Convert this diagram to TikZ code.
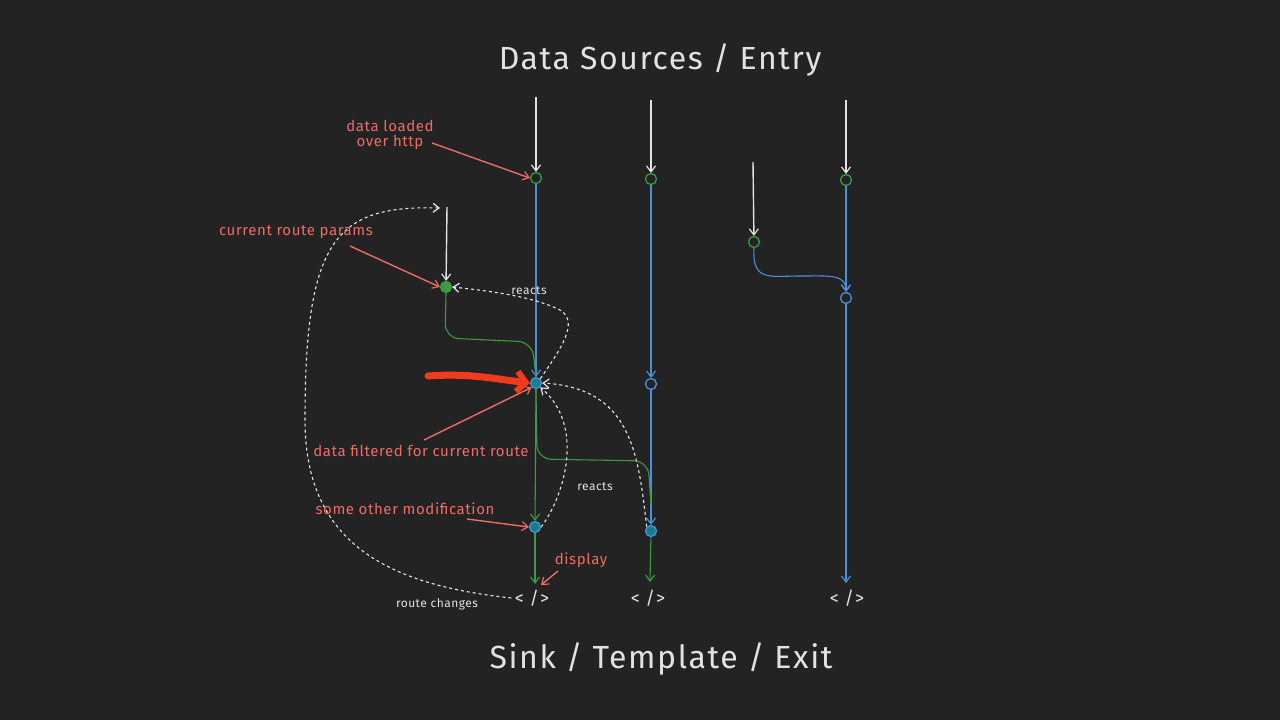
\documentclass[tikz,border=0pt]{standalone}
\usepackage{fontspec}
\setmainfont{Fira Sans}
\usetikzlibrary{arrows.meta}
\definecolor{bgc}{HTML}{232323}
\definecolor{wline}{HTML}{E2E2E2}
\definecolor{bline}{HTML}{4A8FD8}
\definecolor{gline}{HTML}{3C9A44}
\definecolor{tealf}{HTML}{157F8C}
\definecolor{redt}{HTML}{EE6B66}
\definecolor{bigred}{HTML}{F23A1C}
\tikzset{
  tip/.style={-{Straight Barb[length=6pt,width=9pt,line width=1.2pt]}},
  warr/.style={draw=wline,line width=1.4pt,tip},
  barr/.style={draw=bline,line width=1.1pt,tip},
  bl/.style={draw=bline,line width=1.1pt},
  garr/.style={draw=gline,line width=1.1pt,tip},
  gl/.style={draw=gline,line width=1.1pt},
  darr/.style={draw=wline!85,line width=1.1pt,dash pattern=on 3pt off 3pt,tip},
  rarr/.style={draw=redt,line width=1.4pt,tip},
  ocirc/.style={circle,minimum size=11pt,inner sep=0pt,line width=1.3pt},
  gcirc/.style={ocirc,draw=gline},
  bcirc/.style={ocirc,draw=bline},
  fcirc/.style={ocirc,draw=bline,fill=tealf},
  pcirc/.style={ocirc,draw=gline,fill=gline},
  ttl/.style={text=wline,font=\fontsize{32}{36}\selectfont\addfontfeature{LetterSpace=5}},
  rtxt/.style={text=redt,font=\fontsize{15}{17}\selectfont\addfontfeature{LetterSpace=4},align=center},
  wtxt/.style={text=wline,font=\fontsize{12}{14}\selectfont\addfontfeature{LetterSpace=4}},
  code/.style={text=wline,font=\fontsize{18}{20}\selectfont\addfontfeature{LetterSpace=6}}
}
\begin{document}
\begin{tikzpicture}[x=1pt,y=-1pt]
\fill[bgc] (0,0) rectangle (1280,720);
\useasboundingbox (0,0) rectangle (1280,720);

% titles
\node[ttl] (title) at (660,60) {Data Sources / Entry};
\node[ttl] (sink) at (661,659) {Sink / Template / Exit};

% column A
\coordinate (A0) at (536,97);
\node[gcirc] (A1) at (536,178) {};
\node[fcirc] (A2) at (536,383) {};
\node[fcirc] (A3) at (535,527) {};
\node[code] (CA) at (532,598) {< />};
% column B
\coordinate (B0) at (651,100);
\node[gcirc] (B1) at (651,179) {};
\node[bcirc] (B2) at (651,384) {};
\node[fcirc] (B3) at (651,531) {};
\node[code] (CB) at (648,598) {< />};
% column C
\coordinate (C0) at (753,162);
\node[gcirc] (C1) at (754,242) {};
% column D
\coordinate (D0) at (846,100);
\node[gcirc] (D1) at (846,180) {};
\node[bcirc] (D2) at (846,298) {};
\node[code] (CD) at (847,598) {< />};
% params
\coordinate (P0) at (447,207);
\coordinate (P0d) at (440,208);
\node[pcirc] (P) at (446,287) {};

% white entry arrows
\draw[warr] (A0) -- (A1);
\draw[warr] (B0) -- (B1);
\draw[warr] (C0) -- (C1);
\draw[warr] (D0) -- (D1);
\draw[warr] (P0) -- (P);

% blue flows
\draw[barr] (A1) -- (A2);
\draw[barr] (B1) -- (B2);
\draw[barr] (B2) -- (B3);
\draw[barr] (D1) -- (D2);
\draw[barr] (D2) -- (846,583) coordinate (Dend);
\draw[barr] (C1.south) .. controls (752,282) and (770,276) .. (800,276)
   .. controls (830,276) and (846,274) .. (D2.north);

% green flows
\draw[gl,rounded corners=14pt] (P.south) -- (445,338) -- (532,342) -- (A2.north);
\draw[garr] (A2) -- (A3);
\draw[garr] (A3) -- (535,584);
\draw[garr] (B3) -- (650,582);
\draw[gl,rounded corners=14pt] (A2.south) -- (537,459) -- (648,461) -- (651,505);

% dashed reacts
\draw[darr] (A2.north east) .. controls (560,350) and (580,322) .. (560,310)
   .. controls (530,295) and (480,290) .. (P.east);
\draw[darr] (A3.east) .. controls (565,495) and (585,425) .. (A2.south east);
\draw[darr] (B3.north west) .. controls (638,450) and (630,388) .. (A2.east);
\draw[darr] (CA.west) .. controls (390,585) and (305,545) .. (305,420)
   .. controls (305,240) and (335,205) .. (P0d);

\node[wtxt] (r1) at (529,291) {reacts};
\node[wtxt] (r2) at (595,487) {reacts};
\node[wtxt] (rc) at (437,604) {route changes};

% red annotations
\node[rtxt] (t1) at (390,135) {data loaded\\[-2pt]over http};
\draw[rarr] (432,143) -- (A1.west);
\node[rtxt] (t2) at (296,232) {current route params};
\draw[rarr] (350,246) -- (P.west);
\node[rtxt] (t3) at (421,451) {data filtered for current route};
\draw[rarr] (424,440) -- (A2.south west);
\node[rtxt] (t4) at (405,509) {some other modification};
\draw[rarr] (467,519) -- (A3.west);
\node[rtxt] (t5) at (581,560) {display};
\draw[rarr] (558,571) -- (541,585);

% big arrow
\coordinate (big0) at (428,376);
\draw[draw=bigred,line width=7pt,line cap=round,
  -{Straight Barb[length=9pt,width=20pt,line width=6pt]}]
  (big0) .. controls (470,373) and (495,379) .. (A2.west);
\end{tikzpicture}
\end{document}
